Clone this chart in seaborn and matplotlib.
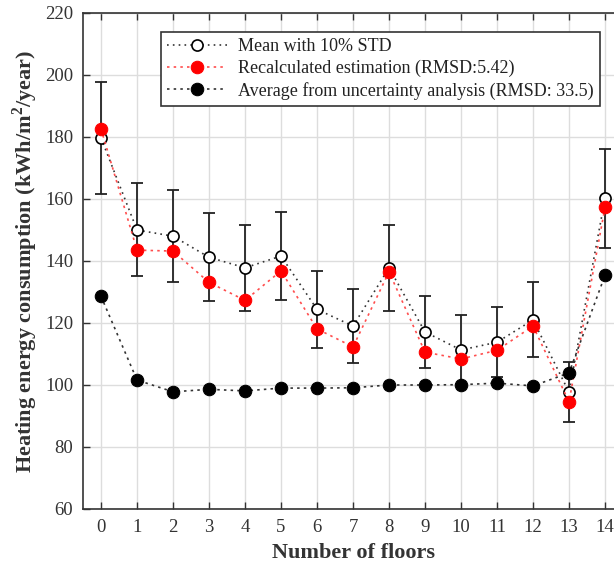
import numpy as np
import pandas as pd
import seaborn as sns
import matplotlib.pyplot as plt

floors = list(range(15))
mean_std = [179.7, 150.0, 148.0, 141.2, 137.8, 141.6, 124.4, 119.0, 137.8, 117.1, 111.3, 113.8, 121.0, 97.7, 160.2]
std10 = [0.1 * m for m in mean_std]  # 10% STD
recalculated = [182.6, 143.5, 143.2, 133.1, 127.3, 136.8, 118.1, 112.3, 136.5, 110.6, 108.4, 111.2, 119.0, 94.6, 157.3]
uncertainty_avg = [128.6, 101.6, 97.8, 98.6, 98.1, 99.0, 99.0, 99.1, 100.0, 100.0, 100.1, 100.6, 99.7, 103.9, 135.4]

sns.set_style("whitegrid")
plt.rcParams['font.family'] = ['Liberation Serif', 'DejaVu Serif']
plt.rcParams['mathtext.fontset'] = 'custom'
plt.rcParams['mathtext.rm'] = 'Liberation Serif'
plt.rcParams['mathtext.bf'] = 'Liberation Serif:bold'

df = pd.DataFrame({'floors': floors, 'mean': mean_std, 'recalc': recalculated, 'avg': uncertainty_avg})

fig = plt.figure(figsize=(6.14, 5.67), dpi=100)
ax = fig.add_axes([0.1352, 0.1023, 0.8795, 0.8748])

ax.errorbar(floors, mean_std, yerr=std10, fmt='none', ecolor='#222222', elinewidth=1.3, capsize=4, capthick=1.3, zorder=2)
sns.lineplot(data=df, x='floors', y='mean', ax=ax, color='#333333', linestyle=(0, (1, 2.5)), linewidth=1.2,
             marker='o', markersize=8, markerfacecolor='white', markeredgecolor='black', markeredgewidth=1.2,
             label='Mean with 10% STD', zorder=3)
sns.lineplot(data=df, x='floors', y='recalc', ax=ax, color='#ff4d4d', linestyle=(0, (1.5, 2.5)), linewidth=1.2,
             marker='o', markersize=9, markerfacecolor='red', markeredgecolor='red',
             label='Recalculated estimation (RMSD:5.42)', zorder=4)
sns.lineplot(data=df, x='floors', y='avg', ax=ax, color='#333333', linestyle=(0, (1.5, 2.5)), linewidth=1.2,
             marker='o', markersize=9, markerfacecolor='black', markeredgecolor='black',
             label='Average from uncertainty analysis (RMSD: 33.5)', zorder=5)

ax.set_xlim(-0.5, 14.5)
ax.set_ylim(60, 220)
ax.set_xticks(floors)
ax.set_yticks(range(60, 221, 20))
ax.grid(True, color='#dddddd', linewidth=1)
for s in ['left', 'bottom', 'top']:
    ax.spines[s].set_color('#333333')
    ax.spines[s].set_linewidth(1.2)
ax.tick_params(axis='both', direction='in', length=5, width=1, color='#333333', labelsize=13.5,
               labelcolor='#333333', top=True, left=True, bottom=True, pad=7)

ax.set_xlabel('Number of floors', fontsize=16, fontweight='bold', color='#333333', labelpad=5)
ax.set_ylabel(r'Heating energy consumption (kWh/m$^{\mathbf{2}}$/year)', fontsize=16, fontweight='bold',
              color='#333333', labelpad=4)

leg = ax.legend(loc='upper left', bbox_to_anchor=(0.1444, 0.9617), borderaxespad=0, fontsize=13, frameon=True,
                fancybox=False, edgecolor='#333333', framealpha=1, handlelength=3.3, handletextpad=0.6,
                borderpad=0.35, labelspacing=0.25)
leg.get_frame().set_linewidth(1.2)
for t in leg.get_texts():
    t.set_color('#222222')

fig.savefig('out.png', dpi=100)
